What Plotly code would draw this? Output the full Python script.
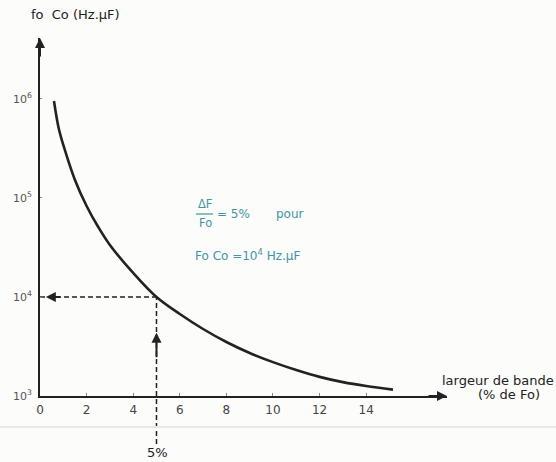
import numpy as np
import plotly.graph_objects as go

# bandwidth (% of Fo) and product Fo*Co (Hz.uF)
bandwidth = [0.6, 0.8, 1.0, 1.5, 2.0, 2.5, 3.0, 4.0, 5.0, 6.0, 7.0, 8.0, 9.0,
             10.0, 11.0, 12.0, 13.0, 14.0, 15.15]
fo_co = [9.55e5, 5.09e5, 3.43e5, 1.52e5, 8.3e4, 5.09e4, 3.35e4, 1.75e4, 1.0e4, 6.73e3,
         4.75e3, 3.51e3, 2.72e3, 2.2e3, 1.83e3, 1.56e3, 1.38e3, 1.26e3, 1.16e3]

x_ticks = [0, 2, 4, 6, 8, 10, 12, 14]
y_ticks = [1e3, 1e4, 1e5, 1e6]
y_ticktext = ["10<sup>3</sup>", "10<sup>4</sup>", "10<sup>5</sup>", "10<sup>6</sup>"]

# worked example
ex_bw = 5.0
ex_focu = 1e4

W, H = 556, 462
L, R, T, B = 40, 447, 38, 396
X_MAX = 17.47
Y_LOG = (3.0, 6.616)

INK = "#222222"
TEAL = "#3f95a6"
FONT = "DejaVu Sans"


def px(x):
    return (x - L) / (R - L)


def py(y):
    return (B - y) / (B - T)


fig = go.Figure()

# reading lines for the example
fig.add_trace(go.Scatter(
    x=[0, ex_bw], y=[ex_focu, ex_focu], mode="lines",
    line=dict(color=INK, width=1.5, dash="5px,3px"), hoverinfo="skip",
))

fig.add_trace(go.Scatter(
    x=bandwidth, y=fo_co, mode="lines",
    line=dict(color=INK, width=2.6, shape="spline", smoothing=1.0),
    hoverinfo="skip",
))

fig.add_shape(
    type="line", xref="x", yref="paper",
    x0=ex_bw, x1=ex_bw,
    y0=py(444), y1=(np.log10(ex_focu) - Y_LOG[0]) / (Y_LOG[1] - Y_LOG[0]),
    line=dict(color=INK, width=1.5, dash="5px,3px"),
)

# faint horizontal rule across the page
fig.add_shape(type="line", xref="paper", yref="paper",
              x0=px(0), x1=px(W), y0=py(427), y1=py(427),
              line=dict(color="#e8e8e6", width=2))

ann = []
# axis arrowheads
ann.append(dict(x=0, y=Y_LOG[1], xref="x", yref="y", ax=0, ay=20,
                showarrow=True, arrowhead=2, arrowsize=1, arrowwidth=2,
                arrowcolor=INK, text=""))
ann.append(dict(x=X_MAX, y=Y_LOG[0], xref="x", yref="y", ax=-20, ay=0,
                showarrow=True, arrowhead=2, arrowsize=1, arrowwidth=2,
                arrowcolor=INK, text=""))
# example arrows
ann.append(dict(x=0.25, y=np.log10(ex_focu), xref="x", yref="y", ax=16, ay=0,
                showarrow=True, arrowhead=2, arrowsize=1, arrowwidth=2,
                arrowcolor=INK, text=""))
ann.append(dict(x=ex_bw, y=3.64, xref="x", yref="y", ax=0, ay=26,
                showarrow=True, arrowhead=2, arrowsize=1, arrowwidth=2,
                arrowcolor=INK, text=""))


def label(text, x, y, color=INK, size=11, anchor="center"):
    ann.append(dict(text=text, x=px(x), y=py(y), xref="paper", yref="paper",
                    showarrow=False, xanchor=anchor, yanchor="middle",
                    font=dict(family=FONT, size=size, color=color)))


label("fo  Co (Hz.µF)", 29, 14, size=13, anchor="left")
label("ΔF", 205, 204, color=TEAL, size=11.5)
label("Fo", 205, 223, color=TEAL, size=11.5)
label("= 5%", 215, 214, color=TEAL, size=12, anchor="left")
label("pour", 274, 214, color=TEAL, size=12, anchor="left")
label("Fo Co =10<sup>4</sup> Hz.µF", 193, 255, color=TEAL, size=12, anchor="left")
label("largeur de bande", 556, 380, size=13, anchor="right")
label("(% de Fo)", 476, 394, size=13, anchor="left")
label("5%", 157, 452, size=13)

fig.add_shape(type="line", xref="paper", yref="paper",
              x0=px(196), x1=px(213), y0=py(214), y1=py(214),
              line=dict(color=TEAL, width=1.2))

fig.update_layout(
    width=W, height=H,
    margin=dict(l=L, r=W - R, t=T, b=H - B),
    paper_bgcolor="#fcfcfa", plot_bgcolor="#fcfcfa",
    showlegend=False,
    annotations=ann,
    font=dict(family=FONT, color="#444444"),
)
fig.update_xaxes(
    range=[0, X_MAX], tickvals=x_ticks, showgrid=False, zeroline=False,
    showline=True, linecolor=INK, linewidth=2,
    ticks="inside", ticklen=3, tickcolor="#888888",
    tickfont=dict(family=FONT, size=12, color="#444444"),
    ticklabelstandoff=2,
)
fig.update_yaxes(
    type="log", range=list(Y_LOG), tickvals=y_ticks, ticktext=y_ticktext,
    showgrid=False, zeroline=False,
    showline=True, linecolor=INK, linewidth=2,
    ticks="inside", ticklen=2, tickcolor="#888888",
    tickfont=dict(family=FONT, size=11, color="#555555"),
    ticklabelstandoff=4,
)

fig.write_html("out.html")
